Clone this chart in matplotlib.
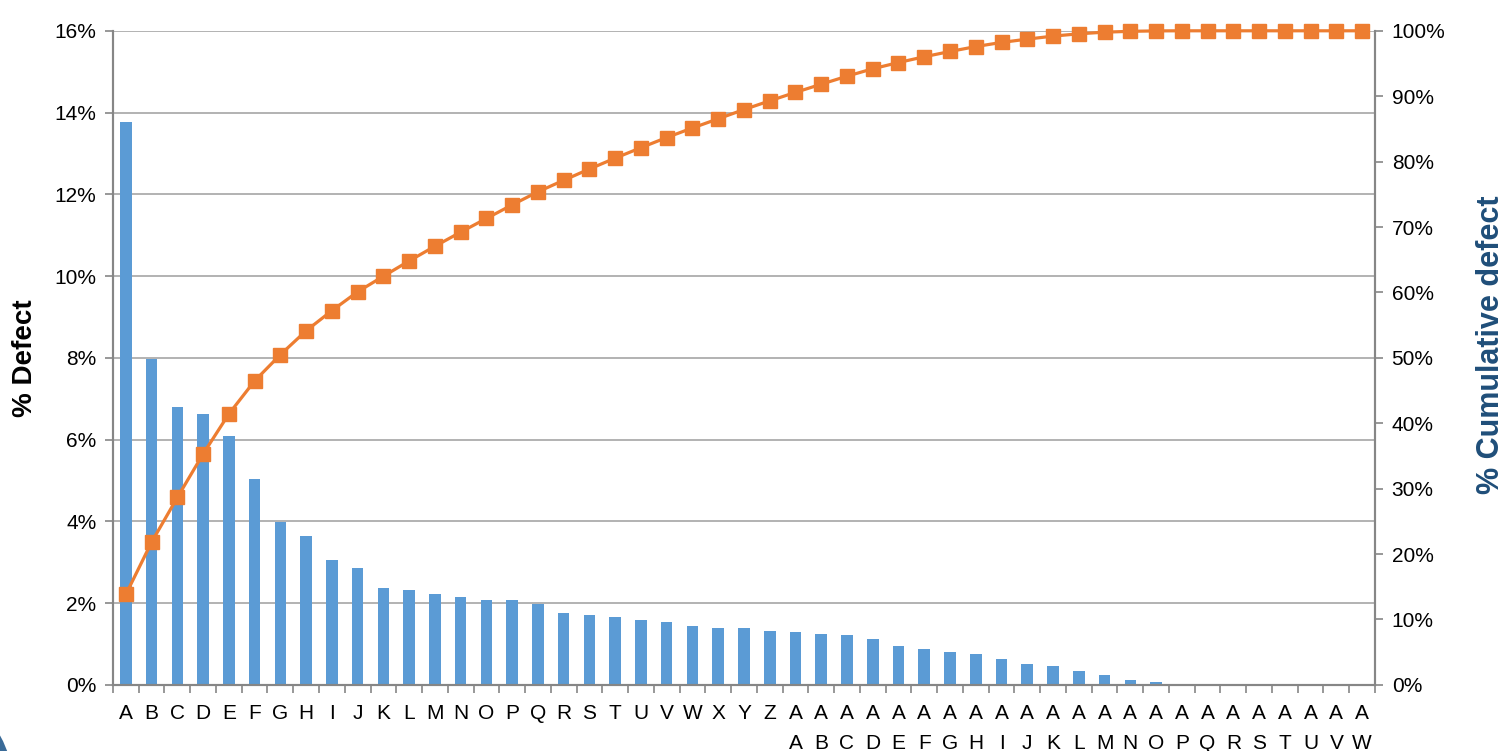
import numpy as np
import matplotlib
matplotlib.use("Agg")
from matplotlib import pyplot as plt
from matplotlib.patches import Circle

# categories A..Z then AA..AW
letters = [chr(c) for c in range(ord('A'), ord('Z') + 1)]
categories = letters + ['A' + l for l in letters[:23]]
tick_labels = letters + ['A\n' + l for l in letters[:23]]

# % defect per category
defect = [13.76, 7.96, 6.80, 6.62, 6.09, 5.03, 3.99, 3.64, 3.06, 2.87,
          2.37, 2.33, 2.23, 2.15, 2.08, 2.07, 1.99, 1.75, 1.72, 1.65,
          1.59, 1.55, 1.45, 1.40, 1.40, 1.33, 1.29, 1.24, 1.22, 1.13,
          0.95, 0.88, 0.80, 0.75, 0.63, 0.50, 0.46, 0.35, 0.25, 0.13,
          0.065, 0.015, 0, 0, 0, 0, 0, 0, 0]

defect = np.array(defect)
cumul = np.cumsum(defect) / defect.sum() * 100

plt.rcParams['font.family'] = ['Liberation Sans', 'DejaVu Sans']

fig = plt.figure(figsize=(15.06, 7.51), dpi=100)
ax = fig.add_axes([0.075, 0.088, 0.838, 0.871])
ax2 = ax.twinx()

x = np.arange(len(categories))
ax.bar(x, defect, width=0.45, color='#5B9BD5', zorder=2)
ax2.plot(x, cumul, '-s', color='#ED7D31', lw=2.3, ms=10, clip_on=False, zorder=3)

ax.set_xlim(-0.5, len(categories) - 0.5)
ax.set_ylim(0, 16)
ax2.set_ylim(0, 100)

ax.set_yticks(np.arange(0, 17, 2))
ax.set_yticklabels(['%d%%' % v for v in range(0, 17, 2)])
ax2.set_yticks(np.arange(0, 101, 10))
ax2.set_yticklabels(['%d%%' % v for v in range(0, 101, 10)])
ax.grid(axis='y', color='#A6A6A6', lw=1.2, zorder=0)
ax.set_axisbelow(True)

ax.set_xticks(x)
ax.set_xticklabels(tick_labels, fontsize=15, linespacing=1.7, va='top')
ax.set_xticks(np.arange(-0.5, len(categories), 1), minor=True)
ax.tick_params(axis='x', which='major', length=0, pad=14)
ax.tick_params(axis='x', which='minor', length=6, color='#868686', width=1.2)
ax.tick_params(axis='y', labelsize=15, length=6, color='#868686', width=1.2, pad=6)
ax2.tick_params(axis='y', labelsize=15, length=6, color='#868686', width=1.2, pad=6)

for a in (ax, ax2):
    a.spines['top'].set_visible(False)
    for s in ('left', 'right', 'bottom'):
        a.spines[s].set_color('#868686')
        a.spines[s].set_linewidth(1.5)

ax.set_ylabel('% Defect', fontsize=20, fontweight='bold', labelpad=12)
ax2.set_ylabel('% Cumulative defect', fontsize=22, fontweight='bold', color='#1F4E79')
ax2.yaxis.set_label_coords(1.080, 0.52)

# slide decoration in the lower left corner
fig.patches.append(Circle((-100, -39), 114, transform=None,
                          facecolor='#3A6B98', edgecolor='none'))

fig.savefig('out.png', dpi=100)
